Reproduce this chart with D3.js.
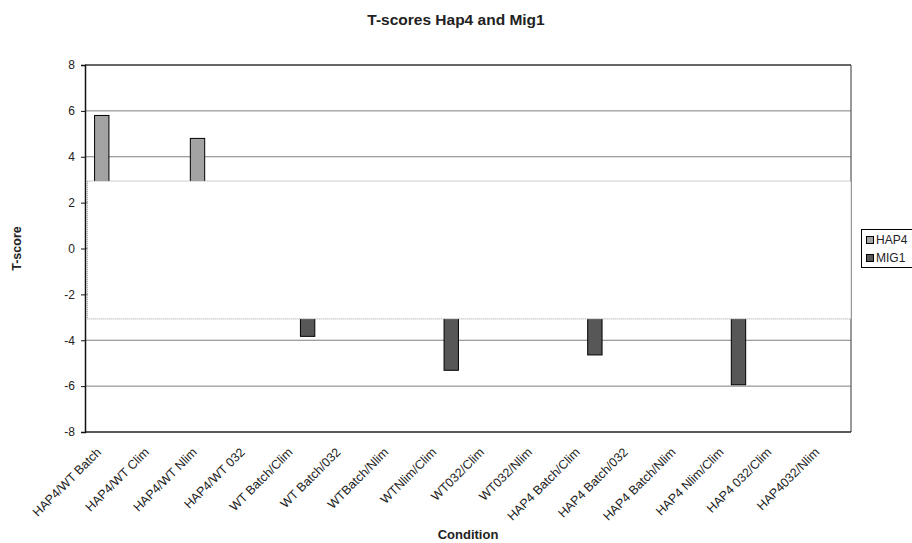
<!DOCTYPE html>
<html>
<head>
<meta charset="utf-8">
<script src="https://cdn.jsdelivr.net/npm/d3@7"></script>
<style>
  html, body { margin: 0; padding: 0; background: #fff; }
  svg { display: block; font-family: Arial, "Liberation Sans", sans-serif; }
</style>
</head>
<body>
<div id="chart"></div>
<script>
const categories = ["HAP4/WT Batch", "HAP4/WT Clim", "HAP4/WT Nlim", "HAP4/WT 032",
  "WT Batch/Clim", "WT Batch/032", "WTBatch/Nlim", "WTNlim/Clim", "WT032/Clim",
  "WT032/Nlim", "HAP4 Batch/Clim", "HAP4 Batch/032", "HAP4 Batch/Nlim",
  "HAP4 Nlim/Clim", "HAP4 032/Clim", "HAP4032/Nlim"];
const seriesNames = ["HAP4", "MIG1"];
const hap4 = [5.8, null, 4.8, null, null, null, null, null, null, null, null, null, null, null, null, null];
const mig1 = [null, null, null, null, -3.83, null, null, -5.31, null, null, -4.64, null, null, -5.94, null, null];
const yTicks = [-8, -6, -4, -2, 0, 2, 4, 6, 8];
const maskRange = [2.94, -3.07];
const colors = {HAP4: "#a3a3a3", MIG1: "#575757"};

const W = 912, H = 543;
const pLeft = 85, pRight = 851, pTop = 65, pBottom = 432;
const FONT = "Arial, 'Liberation Sans', sans-serif";

const svg = d3.select("#chart").append("svg").attr("width", W).attr("height", H);

const x = d3.scaleBand().domain(categories).range([pLeft, pRight]).padding(0);
const x1 = d3.scaleBand().domain(seriesNames).range([x.bandwidth() * 0.2, x.bandwidth() * 0.8]).padding(0);
const y = d3.scaleLinear().domain([-8, 8]).range([pBottom, pTop]);

// gridlines
svg.append("g").selectAll("line").data(yTicks.filter(d => d !== -8 && d !== 8)).join("line")
  .attr("x1", pLeft).attr("x2", pRight)
  .attr("y1", d => y(d)).attr("y2", d => y(d))
  .attr("stroke", "#7f7f7f").attr("stroke-width", 1);

// frame top/right/bottom
svg.append("line").attr("x1", pLeft).attr("x2", pRight).attr("y1", y(8)).attr("y2", y(8))
  .attr("stroke", "#333").attr("stroke-width", 1.3);
svg.append("line").attr("x1", pRight).attr("x2", pRight).attr("y1", y(8)).attr("y2", y(-8))
  .attr("stroke", "#555").attr("stroke-width", 1.2);
svg.append("line").attr("x1", pLeft).attr("x2", pRight).attr("y1", y(-8)).attr("y2", y(-8))
  .attr("stroke", "#222").attr("stroke-width", 1.5);

// bars
const rows = categories.map((c, i) => ({c, HAP4: hap4[i], MIG1: mig1[i]}));
const barData = [];
rows.forEach(r => seriesNames.forEach(s => { if (r[s] != null) barData.push({c: r.c, s, v: r[s]}); }));
svg.append("g").selectAll("rect").data(barData).join("rect")
  .attr("x", d => x(d.c) + x1(d.s))
  .attr("width", x1.bandwidth())
  .attr("y", d => y(Math.max(0, d.v)))
  .attr("height", d => Math.abs(y(d.v) - y(0)))
  .attr("fill", d => colors[d.s])
  .attr("stroke", "#000").attr("stroke-width", 1);

// white mask box with dotted border
svg.append("rect")
  .attr("x", pLeft + 2.5).attr("y", y(maskRange[0]))
  .attr("width", pRight - pLeft - 2.5).attr("height", y(maskRange[1]) - y(maskRange[0]))
  .attr("fill", "#fff").attr("stroke", "#999").attr("stroke-width", 1)
  .attr("stroke-dasharray", "1,1");

// y axis
const yAxis = d3.axisLeft(y).tickValues(yTicks).tickSize(4).tickPadding(6).tickFormat(d3.format("d"));
const ya = svg.append("g").attr("transform", `translate(${pLeft},0)`).call(yAxis);
ya.select(".domain").attr("stroke", "#111").attr("stroke-width", 1.5);
ya.selectAll(".tick line").attr("stroke", "#111");
ya.selectAll(".tick text").attr("font-size", 12).attr("fill", "#222")
  .attr("font-family", FONT)
  .text(d => d < 0 ? "-" + Math.abs(d) : d);

// x labels
const xAxis = d3.axisBottom(x).tickSize(0).tickPadding(0);
const xa = svg.append("g").attr("transform", `translate(0,${pBottom})`).call(xAxis);
xa.select(".domain").remove();
xa.selectAll(".tick text")
  .attr("font-size", 12.5).attr("fill", "#222")
  .attr("font-family", FONT)
  .attr("text-anchor", "end")
  .attr("dy", 0)
  .attr("transform", "translate(-7,21) rotate(-45)");

// titles
svg.append("text").attr("x", 456).attr("y", 25).attr("text-anchor", "middle")
  .attr("font-family", FONT)
  .attr("font-size", 15.5).attr("font-weight", "bold").attr("fill", "#222")
  .text("T-scores Hap4 and Mig1");
svg.append("text").attr("x", (pLeft + pRight) / 2).attr("y", 539).attr("text-anchor", "middle")
  .attr("font-family", FONT)
  .attr("font-size", 13).attr("font-weight", "bold").attr("fill", "#222")
  .text("Condition");
svg.append("text").attr("transform", `translate(21,${y(0)}) rotate(-90)`).attr("text-anchor", "middle")
  .attr("font-family", FONT)
  .attr("font-size", 12.5).attr("font-weight", "bold").attr("fill", "#222")
  .text("T-score");

// legend
const lg = svg.append("g").attr("transform", "translate(861,229)");
lg.append("rect").attr("x", 0.5).attr("y", 0.5).attr("width", 53).attr("height", 38)
  .attr("fill", "#fff").attr("stroke", "#000").attr("stroke-width", 1);
seriesNames.forEach((s, i) => {
  lg.append("rect").attr("x", 5.5).attr("y", 7.5 + i * 18).attr("width", 7).attr("height", 7)
    .attr("fill", colors[s]).attr("stroke", "#000").attr("stroke-width", 1);
  lg.append("text").attr("x", 15).attr("y", 15 + i * 18).attr("font-size", 12).attr("fill", "#222")
    .attr("font-family", FONT)
    .text(s);
});
</script>
</body>
</html>
